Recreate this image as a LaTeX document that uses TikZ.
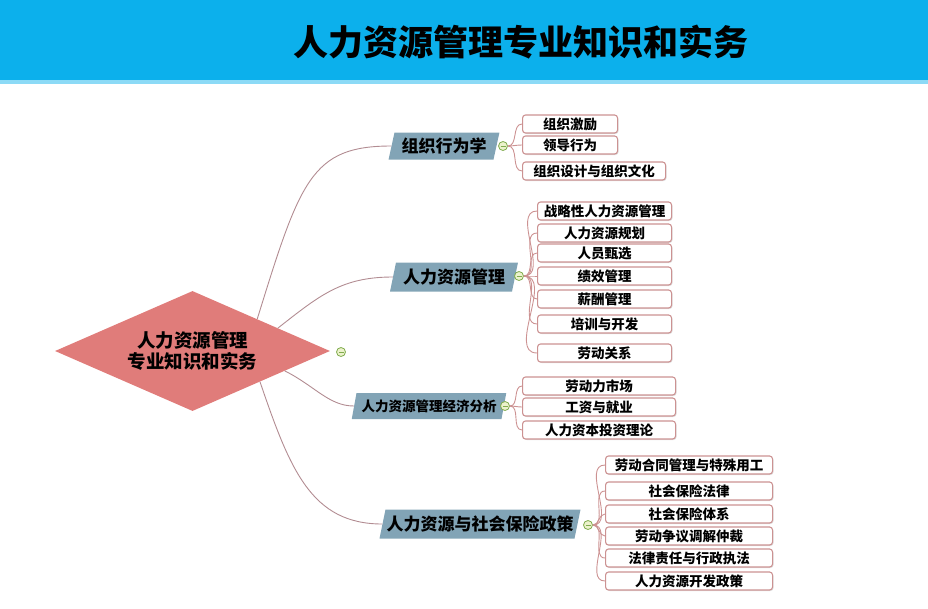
\documentclass[tikz,border=0pt]{standalone}
\usepackage{fontspec}
\setmainfont{Noto Sans CJK SC}
\usepackage{tikz}
\usetikzlibrary{shapes.geometric,shadows,calc}
\usepackage{xcolor}
\definecolor{barblue}{RGB}{12,176,236}
\definecolor{barlight}{RGB}{140,218,246}
\definecolor{rootred}{RGB}{224,124,122}
\definecolor{branchblue}{RGB}{130,164,182}
\definecolor{linebrown}{RGB}{178,140,146}
\definecolor{leafline}{RGB}{204,146,146}
\definecolor{foldgreen}{RGB}{128,172,78}
\definecolor{foldfill}{RGB}{236,242,204}
\newcommand{\leaffont}{\fontsize{13.5}{15}\selectfont\bfseries}

\begin{document}
\begin{tikzpicture}[x=1pt,y=1pt,
  root/.style={diamond,shape aspect=2.3,fill=rootred,minimum width=275pt,minimum height=120pt,inner sep=0pt,align=center,font=\fontsize{18.5}{20.5}\selectfont\bfseries},
  branch/.style={trapezium,trapezium left angle=70,trapezium right angle=110,trapezium stretches=true,fill=branchblue,inner xsep=1pt,inner ysep=0pt,minimum height=27pt,font=\fontsize{17}{18}\selectfont\bfseries},
  leaf/.style={rectangle,rounded corners=3pt,draw=leafline,line width=1.1pt,fill=white,drop shadow={shadow xshift=1pt,shadow yshift=-1pt,opacity=.25},minimum height=18pt,inner sep=0pt,font=\leaffont},
  fold/.style={circle,draw=foldgreen,fill=foldfill,line width=.8pt,minimum size=9pt,inner sep=0pt,
    path picture={\draw[foldgreen,line width=.8pt] ([xshift=2pt]path picture bounding box.west) -- ([xshift=-2pt]path picture bounding box.east);}},
  link/.style={draw=linebrown,line width=.9pt},
  twig/.style={draw=leafline,line width=.9pt}]
  \useasboundingbox (0,0) rectangle (928,-608);
  % title bar
  \fill[barblue] (0,0) rectangle (928,-80);
  \fill[barlight] (0,-80) rectangle (928,-84);
  \node[font=\fontsize{35}{40}\selectfont\bfseries] (title) at (521,-42) {人力资源管理专业知识和实务};

  \node[root] (root) at (192.5,-351) {人力资源管理\\专业知识和实务};
  \node[fold] (f0) at (341,-352) {};

  \node[branch,inner xsep=7pt] (b1) at (444,-146) {组织行为学};
  \node[branch,inner xsep=7pt,minimum height=29pt] (b2) at (454,-277) {人力资源管理};
  \node[branch,inner xsep=5pt,minimum height=26pt,font=\leaffont] (b3) at (429,-406) {人力资源管理经济分析};
  \node[branch,minimum height=29pt] (b4) at (480,-524) {人力资源与社会保险政策};

  \node[fold] (f1) at (503,-146) {};
  \node[fold] (f2) at (519,-276) {};
  \node[fold] (f3) at (505,-406) {};
  \node[fold] (f4) at (588,-525) {};

  \draw[link] ($(root.north)!0.47!(root.east)$) .. controls +(43,139) and +(-80,0) .. (b1.west);
  \draw[link] ($(root.north)!0.62!(root.east)$) .. controls +(42,33) and +(-51,0) .. (b2.west);
  \draw[link] ($(root.east)!0.33!(root.south)$) .. controls +(30,-15) and +(-25,0) .. (b3.west);
  \draw[link] ($(root.east)!0.51!(root.south)$) .. controls +(30,-88) and +(-71,0) .. (b4.west);

  \foreach \y/\t/\w [count=\i] in {124/组织激励/95,145/领导行为/95,171/组织设计与组织文化/143} {
    \node[leaf,minimum width=\w,anchor=west] (a\i) at (522,-\y) {\t};
    \draw[twig] (f1.east) to[out=0,in=180] (a\i.west);
  }
  \foreach \y/\t [count=\i] in {211/战略性人力资源管理,233/人力资源规划,253/人员甄选,276/绩效管理,299/薪酬管理,324/培训与开发,353/劳动关系} {
    \node[leaf,minimum width=134,anchor=west] (c\i) at (537,-\y) {\t};
    \draw[twig] (f2.east) to[out=0,in=180] (c\i.west);
  }
  \foreach \y/\t [count=\i] in {386/劳动力市场,407/工资与就业,430/人力资本投资理论} {
    \node[leaf,minimum width=153,anchor=west] (e\i) at (522,-\y) {\t};
    \draw[twig] (f3.east) to[out=0,in=180] (e\i.west);
  }
  \foreach \y/\t [count=\i] in {465/劳动合同管理与特殊用工,491/社会保险法律,514/社会保险体系,536/劳动争议调解仲裁,558/法律责任与行政执法,581/人力资源开发政策} {
    \node[leaf,minimum width=167,anchor=west] (s\i) at (605,-\y) {\t};
    \draw[twig] (f4.east) to[out=0,in=180] (s\i.west);
  }
\end{tikzpicture}
\end{document}
